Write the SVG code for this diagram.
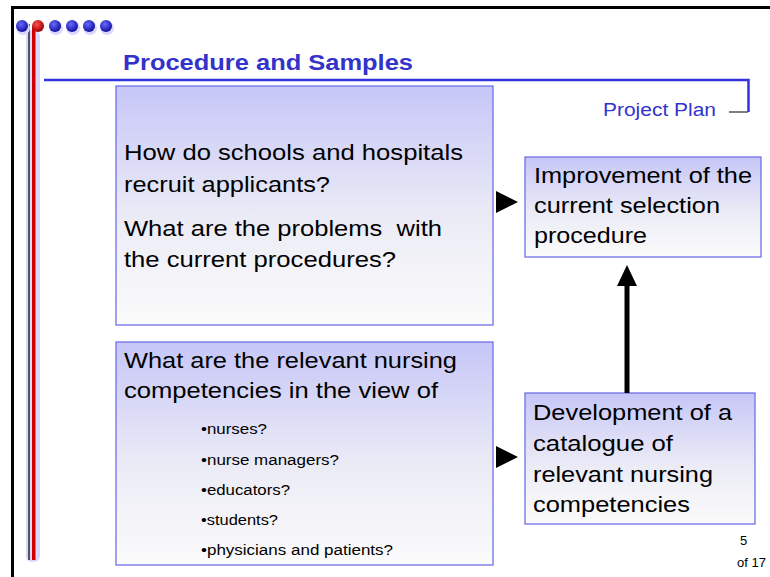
<svg xmlns="http://www.w3.org/2000/svg" width="770" height="577" viewBox="0 0 770 577">
<defs>
<linearGradient id="g" x1="0" y1="0" x2="0" y2="1">
<stop offset="0" stop-color="#c6c6f8"/>
<stop offset="0.55" stop-color="#ebebf6"/>
<stop offset="1" stop-color="#fbfbfb"/>
</linearGradient>
<radialGradient id="bd" cx="0.4" cy="0.35" r="0.65">
<stop offset="0" stop-color="#6a6aff"/>
<stop offset="1" stop-color="#1010a0"/>
</radialGradient>
<radialGradient id="rd" cx="0.4" cy="0.35" r="0.65">
<stop offset="0" stop-color="#ff5050"/>
<stop offset="1" stop-color="#a00000"/>
</radialGradient>
<style>
.box{fill:url(#g);stroke:#7070e8;stroke-width:1.3}
.t{font-family:"Liberation Sans",Arial,sans-serif;fill:#000}
.big{font-size:22px}
.sm{font-size:14px}
.blue{fill:#3333cc}
</style>
</defs>
<rect x="0" y="0" width="770" height="577" fill="#fff"/>
<!-- frame -->
<path d="M12.5,577 V7.5 H770" fill="none" stroke="#000" stroke-width="3"/>
<!-- decorative left lines -->
<rect x="26" y="30" width="14" height="532" fill="#d8d8ff" rx="6"/>
<rect x="28" y="24" width="2" height="536" fill="#555"/>
<rect x="32" y="26" width="3.5" height="534" fill="#d00000"/>
<!-- dots -->
<g>
<circle cx="23" cy="28" r="7" fill="#d8d8ff"/>
<circle cx="56" cy="28" r="7" fill="#d8d8ff"/>
<circle cx="73" cy="28" r="7" fill="#d8d8ff"/>
<circle cx="90" cy="28" r="7" fill="#d8d8ff"/>
<circle cx="107" cy="28" r="7" fill="#d8d8ff"/>
<circle cx="22" cy="26" r="6" fill="url(#bd)"/>
<circle cx="38" cy="26" r="6" fill="url(#rd)"/>
<circle cx="55" cy="26" r="6" fill="url(#bd)"/>
<circle cx="72" cy="26" r="6" fill="url(#bd)"/>
<circle cx="89" cy="26" r="6" fill="url(#bd)"/>
<circle cx="106" cy="26" r="6" fill="url(#bd)"/>
</g>
<!-- title -->
<text x="123" y="70" class="t blue" font-size="22" font-weight="bold" textLength="290" lengthAdjust="spacingAndGlyphs">Procedure and Samples</text>
<path d="M44,80 H748.5 V112" fill="none" stroke="#3333dd" stroke-width="2.5"/>
<path d="M729,112 H748" stroke="#555" stroke-width="1.5"/>
<text x="603" y="116" class="t blue" font-size="18" textLength="113" lengthAdjust="spacingAndGlyphs">Project Plan</text>
<!-- nodes -->
<g id="q1">
<rect x="116" y="86" width="377" height="239" class="box"/>
<text class="t big" x="124" y="160" textLength="339" lengthAdjust="spacingAndGlyphs">How do schools and hospitals</text>
<text class="t big" x="124" y="192" textLength="206" lengthAdjust="spacingAndGlyphs">recruit applicants?</text>
<text class="t big" x="124" y="236" textLength="318" lengthAdjust="spacingAndGlyphs" xml:space="preserve">What are the problems  with</text>
<text class="t big" x="124" y="267" textLength="272" lengthAdjust="spacingAndGlyphs">the current procedures?</text>
</g>
<g id="q2">
<rect x="116" y="342" width="377" height="223" class="box"/>
<text class="t big" x="124" y="368" textLength="333" lengthAdjust="spacingAndGlyphs">What are the relevant nursing</text>
<text class="t big" x="124" y="398" textLength="314" lengthAdjust="spacingAndGlyphs">competencies in the view of</text>
<text class="t sm" x="201" y="434" textLength="66" lengthAdjust="spacingAndGlyphs">•nurses?</text>
<text class="t sm" x="201" y="465" textLength="138" lengthAdjust="spacingAndGlyphs">•nurse managers?</text>
<text class="t sm" x="201" y="495" textLength="89" lengthAdjust="spacingAndGlyphs">•educators?</text>
<text class="t sm" x="201" y="525" textLength="77" lengthAdjust="spacingAndGlyphs">•students?</text>
<text class="t sm" x="201" y="555" textLength="192" lengthAdjust="spacingAndGlyphs">•physicians and patients?</text>
</g>
<g id="r1">
<rect x="525" y="157" width="236" height="100" class="box"/>
<text class="t big" x="534" y="183" textLength="218" lengthAdjust="spacingAndGlyphs">Improvement of the</text>
<text class="t big" x="534" y="213" textLength="186" lengthAdjust="spacingAndGlyphs">current selection</text>
<text class="t big" x="534" y="243" textLength="113" lengthAdjust="spacingAndGlyphs">procedure</text>
</g>
<g id="r2">
<rect x="525" y="393" width="230" height="131" class="box"/>
<text class="t big" x="533" y="420" textLength="199" lengthAdjust="spacingAndGlyphs">Development of a</text>
<text class="t big" x="533" y="451" textLength="140" lengthAdjust="spacingAndGlyphs">catalogue of</text>
<text class="t big" x="533" y="482" textLength="180" lengthAdjust="spacingAndGlyphs">relevant nursing</text>
<text class="t big" x="533" y="512" textLength="157" lengthAdjust="spacingAndGlyphs">competencies</text>
</g>
<!-- connectors -->
<g id="connectors">
<path d="M496,191 L518,202 L496,213 z" fill="#000"/>
<path d="M496,446 L518,457 L496,468 z" fill="#000"/>
<line x1="627" y1="393" x2="627" y2="284" stroke="#000" stroke-width="5"/>
<path d="M617,286 L627,265 L637,286 z" fill="#000"/>
</g>
<!-- page number -->
<text x="740" y="545" class="t" font-size="13" fill="#222">5</text>
<text x="737" y="567" class="t" font-size="13" fill="#222">of 17</text>
</svg>
